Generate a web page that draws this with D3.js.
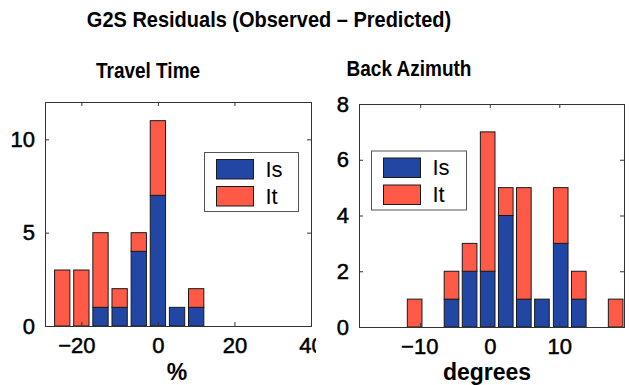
<!DOCTYPE html>
<html>
<head>
<meta charset="utf-8">
<script src="https://cdn.jsdelivr.net/npm/d3@7"></script>
<style>
  body { margin: 0; background: #fff; }
  svg { display: block; font-family: "Liberation Sans", Arial, sans-serif; }
</style>
</head>
<body>
<svg width="629" height="385"></svg>
<script>
// travel time residuals (%), bin centres and counts
var ttCenters = [-25, -20, -15, -10, -5, 0, 5, 10];
var ttIs = [0, 0, 1, 1, 4, 7, 1, 1];
var ttIt = [3, 3, 4, 1, 1, 4, 0, 1];
var ttXTicks = [-20, 0, 20, 40];
var ttYTicks = [0, 5, 10];

// back azimuth residuals (degrees)
var baCenters = [-10.8, -5.5, -2.9, -0.3, 2.3, 4.9, 7.5, 10.2, 12.8, 18.1];
var baIs = [0, 1, 2, 2, 4, 1, 1, 3, 1, 0];
var baIt = [1, 1, 1, 5, 1, 4, 0, 2, 1, 1];
var baXTicks = [-10, 0, 10];
var baYTicks = [0, 2, 4, 6, 8];

var seriesNames = ["Is", "It"];
var colors = {Is: "#2146a3", It: "#ff5a47"};

var svg = d3.select("svg");

// text that is a bit taller than wide, like the original figure
var tallText = function(parent, x, y, size, sy, str){
  return parent.append("text")
    .attr("transform", "translate(" + x + "," + y + ") scale(1," + sy + ")")
    .attr("text-anchor", "middle")
    .style("font-size", size + "px").style("font-weight", "bold")
    .text(str);
};

tallText(svg, 269, 27, 20, 1.06, "G2S Residuals (Observed \u2013 Predicted)");

var drawPanel = function(opt){
  let g = svg.append("g");
  if (opt.clip) {
    svg.append("clipPath").attr("id", opt.id + "-clip")
      .append("rect").attr("x", 0).attr("y", 0).attr("width", opt.clip).attr("height", 385);
    g.attr("clip-path", "url(#" + opt.id + "-clip)");
  }
  let x = d3.scaleLinear().domain(opt.xDomain).range(opt.xRange);
  let y = d3.scaleLinear().domain(opt.yDomain).range(opt.yRange);
  let binW = opt.binWidth * 0.8;

  // stacked bars
  let rows = opt.centers.map(function(c, i){
    return {c: c, Is: opt.is[i], It: opt.it[i]};
  });
  let stacked = d3.stack().keys(seriesNames)(rows);
  stacked.forEach(function(layer){
    g.append("g").selectAll("rect")
      .data(layer.filter(function(d){ return d[1] > d[0]; }))
      .enter().append("rect")
      .attr("x", function(d){ return x(d.data.c - binW / 2); })
      .attr("width", function(d){ return x(d.data.c + binW / 2) - x(d.data.c - binW / 2); })
      .attr("y", function(d){ return y(d[1]); })
      .attr("height", function(d){ return y(d[0]) - y(d[1]); })
      .attr("fill", colors[layer.key])
      .attr("stroke", "#1a1a1a")
      .attr("stroke-width", 1);
  });

  // axes with inward ticks on all sides
  let tick = 4;
  let bottom = d3.axisBottom(x).tickValues(opt.xTicks).tickSize(-tick).tickPadding(11)
    .tickFormat(function(d){ return d < 0 ? "\u2212" + Math.abs(d) : d; });
  let top = d3.axisTop(x).tickValues(opt.xTicks).tickSize(-tick).tickFormat("");
  let left = d3.axisLeft(y).tickValues(opt.yTicks).tickSize(-tick).tickPadding(10);
  let right = d3.axisRight(y).tickValues(opt.yTicks).tickSize(-tick).tickFormat("");

  let axes = [
    [bottom, "translate(0," + opt.yRange[0] + ")"],
    [top, "translate(0," + opt.yRange[1] + ")"],
    [left, "translate(" + opt.xRange[0] + ",0)"],
    [right, "translate(" + opt.xRange[1] + ",0)"]
  ];
  axes.forEach(function(a){
    let ag = g.append("g").attr("transform", a[1]).call(a[0]);
    ag.select(".domain").attr("stroke", "#333");
    ag.selectAll(".tick line").attr("stroke", "#333");
    ag.selectAll(".tick text").attr("fill", "#000")
      .attr("stroke", "#000").attr("stroke-width", 0.5)
      .style("font-size", "22px").style("font-family", "'Liberation Sans', Arial, sans-serif");
  });
  // negative labels sit a little left of their tick in the original
  g.selectAll(".tick text")
    .filter(function(d){ return d < 0 && opt.xTicks.indexOf(d) >= 0 && this.getAttribute("dy") === "0.71em"; })
    .attr("dx", opt.negShift || 0);

  // x label and subplot title
  g.append("text")
    .attr("x", opt.xLabelX).attr("y", 379.5)
    .attr("text-anchor", "middle")
    .style("font-size", "23px").style("font-weight", "bold")
    .text(opt.xLabel);
  tallText(svg, opt.titleX, opt.titleY, 19, 1.2, opt.title);

  // legend
  let lg = g.append("g").attr("transform", "translate(" + opt.legend[0] + "," + opt.legend[1] + ")");
  lg.append("rect").attr("width", opt.legend[2]).attr("height", 59)
    .attr("fill", "#fff").attr("stroke", "#555");
  seriesNames.forEach(function(name, i){
    lg.append("rect")
      .attr("x", 12).attr("y", 7 + i * 27)
      .attr("width", 37).attr("height", 19.5)
      .attr("fill", colors[name]).attr("stroke", "#1a1a1a");
    lg.append("text")
      .attr("x", 61).attr("y", 24 + i * 27)
      .style("font-size", "22px")
      .text(name);
  });
};

drawPanel({
  id: "tt", clip: 316,
  centers: ttCenters, is: ttIs, it: ttIt, binWidth: 5,
  xDomain: [-29.5, 40], xRange: [45, 311],
  yDomain: [0, 12], yRange: [326, 102],
  xTicks: ttXTicks, yTicks: ttYTicks, negShift: -5,
  xLabel: "%", xLabelX: 177,
  title: "Travel Time", titleX: 148, titleY: 78,
  legend: [204.5, 152.5, 94]
});

drawPanel({
  id: "ba",
  centers: baCenters, is: baIs, it: baIt, binWidth: 2.63,
  xDomain: [-18.8, 19.3], xRange: [359, 624],
  yDomain: [0, 8], yRange: [327, 104],
  xTicks: baXTicks, yTicks: baYTicks, negShift: -1,
  xLabel: "degrees", xLabelX: 487,
  title: "Back Azimuth", titleX: 409, titleY: 76,
  legend: [371.5, 151, 95]
});
</script>
</body>
</html>
